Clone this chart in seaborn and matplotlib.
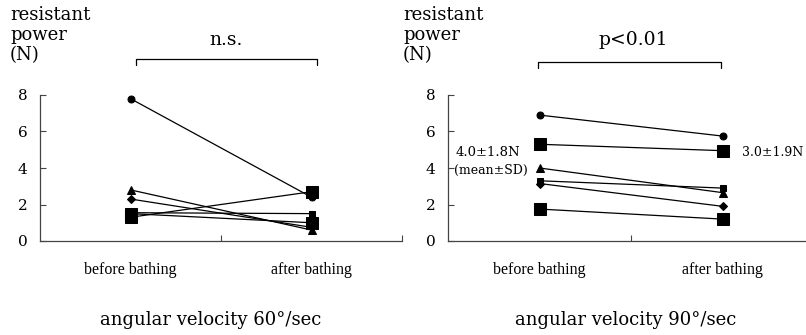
import matplotlib
matplotlib.use("Agg")
import matplotlib.pyplot as plt
import seaborn as sns
import pandas as pd

sns.set_theme(style="white")
plt.rcParams['font.family'] = ['DejaVu Serif']
plt.rcParams['text.color'] = 'black'
plt.rcParams['xtick.color'] = '#444'
plt.rcParams['ytick.color'] = '#444'

conditions = ["before bathing", "after bathing"]
subjects = ["S1", "S2", "S3", "S4", "S5", "S6"]

# 60 deg/sec panel
m60 = ["o", "^", "D", "s", "s", "s"]
s60 = [5, 6, 4.5, 8, 4.5, 8]
v60_before = [7.8, 2.8, 2.3, 1.3, 1.55, 1.5]
v60_after = [2.4, 0.6, 0.75, 2.7, 1.5, 1.0]

# 90 deg/sec panel
m90 = ["o", "s", "^", "s", "D", "s"]
s90 = [5, 8, 6, 4.5, 4.5, 8]
v90_before = [6.9, 5.3, 4.0, 3.3, 3.15, 1.75]
v90_after = [5.75, 4.95, 2.65, 2.9, 1.9, 1.2]

yticks = [0, 2, 4, 6, 8]
titles = ["angular velocity 60\u00b0/sec", "angular velocity 90\u00b0/sec"]
sig_labels = ["n.s.", "p<0.01"]

fig = plt.figure(figsize=(8.06, 3.35), dpi=100)
W, H = 806, 335
ax1 = fig.add_axes([40 / W, (H - 241) / H, 362 / W, 146 / H])
ax2 = fig.add_axes([448 / W, (H - 241) / H, 366 / W, 146 / H])

pos = [0.5, 1.5]
for ax, bef, aft, mk, ms in [(ax1, v60_before, v60_after, m60, s60),
                             (ax2, v90_before, v90_after, m90, s90)]:
    for i, s in enumerate(subjects):
        df = pd.DataFrame({"x": pos, "y": [bef[i], aft[i]]})
        sns.lineplot(data=df, x="x", y="y", ax=ax, color="black", linewidth=0.9,
                     marker=mk[i], markersize=ms[i], markeredgecolor="black",
                     markerfacecolor="black", legend=False)
    ax.set_xlim(0, 2)
    ax.set_ylim(0, 8)
    ax.set_yticks(yticks)
    ax.set_yticklabels([str(t) for t in yticks], fontsize=11, color="black")
    ax.set_xticks([1, 2])
    ax.set_xticklabels([])
    ax.set_xticks(pos, minor=True)
    ax.set_xticklabels(conditions, minor=True, fontsize=11.5, family="Liberation Serif",
                       color="black")
    ax.tick_params(axis="x", which="minor", bottom=True, length=0, pad=15)
    ax.tick_params(axis="x", which="major", bottom=True, direction="in", length=4, width=0.8)
    ax.tick_params(axis="y", left=True, direction="in", length=4, width=0.8, pad=9)
    ax.set_xlabel("")
    ax.set_ylabel("")
    for sp in ["top", "right"]:
        ax.spines[sp].set_visible(False)
    for sp in ["left", "bottom"]:
        ax.spines[sp].set_color("#444")
        ax.spines[sp].set_linewidth(0.9)

# y labels
for xl in (10, 403):
    fig.text(xl / W, 1 - 6 / H, "resistant\npower\n(N)", fontsize=13, va="top", ha="left",
             linespacing=1.15)

# bottom titles
fig.text(211 / W, 1 - 320 / H, titles[0], fontsize=13, ha="center", va="center")
fig.text(626 / W, 1 - 320 / H, titles[1], fontsize=13, ha="center", va="center")

# significance brackets
def bracket(x0, x1, y, leg, label, cx):
    fig.add_artist(plt.Line2D([x0 / W, x0 / W, x1 / W, x1 / W],
                              [1 - leg / H, 1 - y / H, 1 - y / H, 1 - leg / H],
                              color="black", linewidth=0.9))
    fig.text(cx / W, 1 - 40 / H, label, fontsize=13.5, ha="center", va="center")

bracket(136, 317, 59, 65, sig_labels[0], 226)
bracket(538, 721, 62, 68, sig_labels[1], 633)

# mean annotations
fig.text(456 / W, 1 - 153 / H, "4.0\u00b11.8N", fontsize=9.5, ha="left", va="center")
fig.text(454 / W, 1 - 170 / H, "(mean\u00b1SD)", fontsize=9, ha="left", va="center")
fig.text(742 / W, 1 - 152 / H, "3.0\u00b11.9N", fontsize=9, ha="left", va="center")

fig.savefig("out.png", dpi=100)
